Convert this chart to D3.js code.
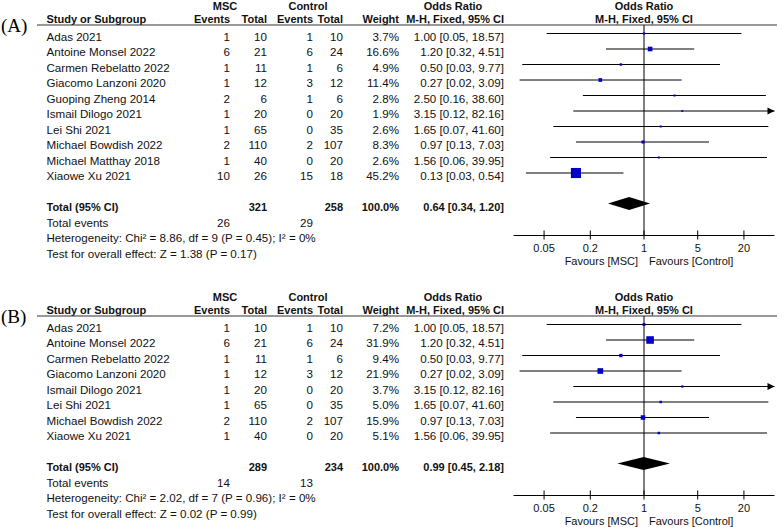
<!DOCTYPE html>
<html><head><meta charset="utf-8">
<script src="https://cdn.jsdelivr.net/npm/d3@7/dist/d3.min.js"></script>
<style>body{margin:0;background:#fff}svg{display:block}text{font-family:Arial,"Liberation Sans",sans-serif;font-size:11.6px;fill:#111}</style>
</head><body>
<script>
// ---------- Panel A data ----------
const studiesA = ["Adas 2021","Antoine Monsel 2022","Carmen Rebelatto 2022","Giacomo Lanzoni 2020","Guoping Zheng 2014","Ismail Dilogo 2021","Lei Shi 2021","Michael Bowdish 2022","Michael Matthay 2018","Xiaowe Xu 2021"];
const mscEventsA = [1,6,1,1,2,1,1,2,1,10];
const mscTotalA = [10,21,11,12,6,20,65,110,40,26];
const ctlEventsA = [1,6,1,3,1,0,0,2,0,15];
const ctlTotalA = [10,24,6,12,6,20,35,107,20,18];
const weightA = [3.7,16.6,4.9,11.4,2.8,1.9,2.6,8.3,2.6,45.2];
const orA = [1.00,1.20,0.50,0.27,2.50,3.15,1.65,0.97,1.56,0.13];
const loA = [0.054,0.32,0.026,0.024,0.16,0.12,0.066,0.13,0.06,0.029];
const hiA = [18.57,4.51,9.77,3.09,38.60,82.16,41.60,7.03,39.95,0.54];
const totalA = {msc:321, ctl:258, weight:100.0, or:0.64, lo:0.34, hi:1.20, evMsc:26, evCtl:29};
const hetA = "Heterogeneity: Chi\u00B2 = 8.86, df = 9 (P = 0.45); I\u00B2 = 0%";
const testA = "Test for overall effect: Z = 1.38 (P = 0.17)";

// ---------- Panel B data ----------
const studiesB = ["Adas 2021","Antoine Monsel 2022","Carmen Rebelatto 2022","Giacomo Lanzoni 2020","Ismail Dilogo 2021","Lei Shi 2021","Michael Bowdish 2022","Xiaowe Xu 2021"];
const mscEventsB = [1,6,1,1,1,1,2,1];
const mscTotalB = [10,21,11,12,20,65,110,40];
const ctlEventsB = [1,6,1,3,0,0,2,0];
const ctlTotalB = [10,24,6,12,20,35,107,20];
const weightB = [7.2,31.9,9.4,21.9,3.7,5.0,15.9,5.1];
const orB = [1.00,1.20,0.50,0.27,3.15,1.65,0.97,1.56];
const loB = [0.054,0.32,0.026,0.024,0.12,0.066,0.13,0.06];
const hiB = [18.57,4.51,9.77,3.09,82.16,41.60,7.03,39.95];
const totalB = {msc:289, ctl:234, weight:100.0, or:0.99, lo:0.45, hi:2.18, evMsc:14, evCtl:13};
const hetB = "Heterogeneity: Chi\u00B2 = 2.02, df = 7 (P = 0.96); I\u00B2 = 0%";
const testB = "Test for overall effect: Z = 0.02 (P = 0.99)";

const tickValues = [0.05,0.2,1,5,20];
const tickLabels = ["0.05","0.2","1","5","20"];

const W = 783, H = 527;
const svg = d3.select("body").append("svg").attr("width",W).attr("height",H);
const x = d3.scaleLog().domain([0.02,50]).range([513.5,774.5]);
const f2 = v => v.toFixed(2);
const ciText = (o,l,h) => `${f2(o)} [${f2(l)}, ${f2(h)}]`;

function panel(label, top, studies, me, mt, ce, ct, wt, or, lo, hi, tot, het, test){
  const g = svg.append("g");
  const rowY = i => top + 33.5 + 15.5*i;
  const n = studies.length;
  // label
  g.append("text").attr("x",1).attr("y",top+32).style("font-family","'Liberation Serif','Times New Roman',serif").style("font-size","19px").style("fill","#000").text(label);
  // headers
  const hb1 = top+9.5, hb2 = top+22.5;
  const bold = (t,xx,yy,anchor) => g.append("text").attr("x",xx).attr("y",yy).attr("text-anchor",anchor).style("font-weight","bold").style("font-size","11px").text(t);
  bold("MSC",225,hb1,"middle");
  bold("Control",308,hb1,"middle");
  bold("Odds Ratio",453,hb1,"middle");
  bold("Odds Ratio",644,hb1,"middle");
  bold("Study or Subgroup",46.5,hb2,"start");
  bold("Events",230,hb2,"end");
  bold("Total",267,hb2,"end");
  bold("Events",313,hb2,"end");
  bold("Total",343,hb2,"end");
  bold("Weight",399,hb2,"end");
  bold("M-H, Fixed, 95% CI",504,hb2,"end");
  bold("M-H, Fixed, 95% CI",644,hb2,"middle");
  g.append("line").attr("x1",37).attr("x2",777).attr("y1",top+25).attr("y2",top+25).attr("stroke","#333").attr("stroke-width",1.2);

  // rows
  const txt = (t,xx,yy,anchor) => g.append("text").attr("x",xx).attr("y",yy).attr("text-anchor",anchor).text(t);
  studies.forEach((s,i)=>{
    const yb = rowY(i)+7.2;
    txt(s,46.5,yb,"start");
    txt(me[i],230,yb,"end");
    txt(mt[i],267,yb,"end");
    txt(ce[i],313,yb,"end");
    txt(ct[i],343,yb,"end");
    txt(wt[i].toFixed(1)+"%",399,yb,"end");
    txt(ciText(or[i],lo[i],hi[i]),504,yb,"end");
  });
  const iT = n+1;
  const ybT = rowY(iT)+7.2;
  bold("Total (95% CI)",46.5,ybT,"start");
  bold(tot.msc,267,ybT,"end");
  bold(tot.ctl,343,ybT,"end");
  bold(tot.weight.toFixed(1)+"%",399,ybT,"end");
  bold(ciText(tot.or,tot.lo,tot.hi),504,ybT,"end");
  txt("Total events",46.5,rowY(n+2)+7.2,"start");
  txt(tot.evMsc,230,rowY(n+2)+7.2,"end");
  txt(tot.evCtl,313,rowY(n+2)+7.2,"end");
  txt(het,46.5,rowY(n+3)+7.2,"start");
  txt(test,46.5,rowY(n+4)+7.2,"start");

  // plot
  const axisY = rowY(n+3)+0.5;
  const [xmin,xmax] = x.range();
  g.append("line").attr("x1",x(1)).attr("x2",x(1)).attr("y1",top+25).attr("y2",axisY).attr("stroke","#000").attr("stroke-width",1);
  studies.forEach((s,i)=>{
    const y = rowY(i);
    const x1 = Math.max(xmin, x(Math.max(lo[i],0.02)));
    const x2 = hi[i] > 50 ? xmax : x(hi[i]);
    g.append("line").attr("x1",x1).attr("x2",x2).attr("y1",y).attr("y2",y).attr("stroke","#000").attr("stroke-width",1);
    if (hi[i] > 50) {
      g.append("path").attr("d",`M${xmax},${y} L${xmax-7},${y-3.5} L${xmax-7},${y+3.5} Z`).attr("fill","#000");
    }
    const sz = 1.5 + 0.19*wt[i];
    g.append("rect").attr("x",x(or[i])-sz/2).attr("y",y-sz/2).attr("width",sz).attr("height",sz).attr("fill","#0000c8");
  });
  const yd = rowY(iT)-0.5;
  g.append("path").attr("d",`M${x(tot.lo)},${yd} L${x(tot.or)},${yd-6.5} L${x(tot.hi)},${yd} L${x(tot.or)},${yd+6.5} Z`).attr("fill","#000");

  // axis
  g.append("line").attr("x1",xmin).attr("x2",xmax).attr("y1",axisY).attr("y2",axisY).attr("stroke","#000").attr("stroke-width",1);
  tickValues.forEach((t,k)=>{
    g.append("line").attr("x1",x(t)).attr("x2",x(t)).attr("y1",axisY-5).attr("y2",axisY+4).attr("stroke","#000");
    g.append("text").attr("x",x(t)).attr("y",axisY+16).attr("text-anchor","middle").style("font-size","11px").text(tickLabels[k]);
  });
  g.append("text").attr("x",638).attr("y",axisY+29).attr("text-anchor","end").style("font-size","11px").text("Favours [MSC]");
  g.append("text").attr("x",649).attr("y",axisY+29).attr("text-anchor","start").style("font-size","11px").text("Favours [Control]");
}

panel("(A)",0,studiesA,mscEventsA,mscTotalA,ctlEventsA,ctlTotalA,weightA,orA,loA,hiA,totalA,hetA,testA);
panel("(B)",291,studiesB,mscEventsB,mscTotalB,ctlEventsB,ctlTotalB,weightB,orB,loB,hiB,totalB,hetB,testB);
</script>
</body></html>
